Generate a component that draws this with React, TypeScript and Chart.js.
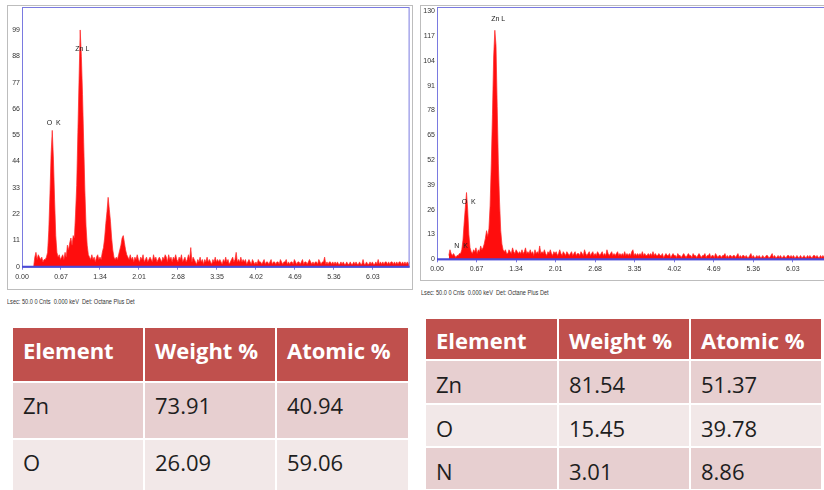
import React, { useEffect, useRef } from "react";
import { Chart, registerables } from "chart.js";

Chart.register(...registerables);

// ---------- data ----------
const CHANNEL_KEV = 0.02;
const SPECTRUM_START_KEV = 0.2;
const X_MAX_KEV = 6.66;
const X_TICKS = [0, 0.67, 1.34, 2.01, 2.68, 3.35, 4.02, 4.69, 5.36, 6.03];

const LEFT_Y_TICKS = [0, 11, 22, 33, 44, 55, 66, 77, 88, 99];
const LEFT_Y_MAX = 108.6;
// counts per 0.02 keV channel, starting at 0.20 keV (one row = 0.2 keV)
const LEFT_COUNTS = [
  0, 4, 6, 3, 5, 4, 3, 4, 2, 3,
  3, 4, 6, 15, 30, 47, 57, 45, 28, 13,
  6, 4, 5, 3, 4, 5, 3, 6, 4, 9,
  7, 10, 12, 9, 13, 12, 22, 34, 56, 78,
  99, 88, 72, 52, 32, 17, 9, 5, 4, 3,
  5, 3, 4, 2, 4, 5, 3, 4, 3, 6,
  8, 12, 18, 23, 29, 24, 19, 12, 7, 4,
  3, 4, 3, 5, 7, 9, 12, 13, 10, 7,
  5, 4, 3, 5, 3, 4, 2, 4, 3, 5,
  3, 2, 4, 3, 5, 2, 3, 4, 2, 3,
  4, 3, 2, 5, 3, 4, 2, 3, 4, 3,
  2, 4, 3, 5, 4, 2, 5, 3, 4, 2,
  4, 3, 5, 3, 2, 4, 3, 5, 2, 3,
  4, 2, 3, 5, 3, 8, 2, 4, 3, 2,
  1, 3, 2, 4, 2, 3, 1, 3, 2, 4,
  2, 3, 2, 1, 3, 2, 4, 2, 3, 2,
  3, 2, 1, 3, 2, 4, 2, 3, 1, 2,
  3, 4, 2, 3, 6, 2, 3, 2, 4, 2,
  3, 2, 3, 1, 2, 3, 2, 1, 3, 2,
  1, 2, 1, 3, 2, 2, 1, 2, 3, 1,
  2, 2, 1, 2, 3, 1, 2, 2, 1, 2,
  2, 1, 3, 2, 1, 2, 2, 3, 1, 2,
  1, 2, 2, 1, 3, 2, 1, 2, 2, 1,
  2, 3, 1, 2, 2, 1, 2, 3, 2, 1,
  2, 1, 2, 2, 1, 3, 2, 1, 2, 2,
  4, 1, 2, 1, 2, 2, 1, 2, 1, 2,
  1, 2, 1, 1, 2, 1, 2, 1, 1, 2,
  1, 1, 2, 1, 1, 2, 1, 2, 1, 1,
  2, 1, 1, 3, 1, 1, 2, 1, 1, 2,
  1, 2, 1, 1, 2, 1, 3, 1, 2, 1,
  2, 1, 2, 2, 1, 2, 1, 2, 2, 1,
  2, 1, 2, 1, 2, 2, 1, 2, 1, 2,
  1, 2, 1, 2,
];
const LEFT_PEAK_NAMES = ["O  K", "Zn L"];
const LEFT_PEAK_KEV = [0.546, 1.036];
const LEFT_PEAK_COUNTS = [58.5, 89.4];

const RIGHT_Y_TICKS = [0, 13, 26, 39, 52, 65, 78, 91, 104, 117, 130];
const RIGHT_Y_MAX = 132.2;
const RIGHT_COUNTS = [
  2, 5, 3, 2, 3, 2, 1, 2, 2, 3,
  3, 5, 10, 19, 27, 35, 26, 13, 6, 4,
  3, 5, 4, 6, 3, 5, 4, 7, 5, 6,
  8, 11, 15, 12, 16, 28, 50, 76, 106, 120,
  112, 80, 50, 30, 15, 8, 5, 4, 5, 3,
  3, 5, 4, 3, 6, 4, 3, 5, 4, 3,
  4, 3, 5, 3, 4, 6, 3, 4, 3, 5,
  3, 4, 2, 5, 3, 4, 3, 7, 3, 4,
  3, 5, 3, 2, 4, 3, 5, 3, 2, 4,
  3, 4, 2, 3, 5, 3, 2, 4, 3, 2,
  4, 3, 2, 3, 4, 2, 3, 4, 2, 3,
  3, 2, 4, 3, 2, 5, 3, 2, 3, 4,
  2, 3, 4, 2, 3, 2, 4, 3, 2, 3,
  4, 2, 3, 2, 5, 3, 2, 3, 4, 2,
  3, 2, 3, 4, 2, 3, 2, 3, 2, 4,
  2, 3, 2, 3, 2, 4, 5, 2, 3, 2,
  3, 2, 3, 2, 4, 2, 3, 2, 2, 3,
  2, 3, 2, 4, 2, 3, 2, 2, 3, 2,
  2, 3, 1, 2, 3, 2, 2, 3, 1, 2,
  3, 2, 2, 1, 3, 2, 2, 1, 2, 3,
  2, 1, 2, 3, 2, 2, 1, 3, 2, 2,
  1, 2, 3, 2, 1, 2, 2, 3, 1, 2,
  2, 3, 1, 2, 2, 1, 3, 2, 1, 2,
  2, 1, 2, 2, 3, 1, 2, 1, 2, 2,
  1, 2, 2, 1, 2, 3, 1, 2, 1, 2,
  2, 1, 2, 1, 1, 2, 3, 1, 2, 1,
  1, 2, 1, 2, 1, 1, 2, 1, 1, 2,
  2, 1, 1, 2, 3, 1, 2, 1, 1, 2,
  1, 2, 1, 1, 2, 1, 1, 2, 2, 1,
  2, 1, 2, 1, 1, 2, 1, 1, 2, 1,
  1, 2, 1, 1, 2, 1, 2, 1, 1, 2,
  2, 1, 2, 1, 1, 2, 1, 2, 1, 1,
  2, 1, 1, 2,
];
const RIGHT_PEAK_NAMES = ["N  K", "O  K", "Zn L"];
const RIGHT_PEAK_KEV = [0.407, 0.538, 1.036];
const RIGHT_PEAK_COUNTS = [4.9, 28, 124];

const CAPTION = "Lsec: 50.0 0 Cnts  0.000 keV  Det: Octane Plus Det";

const TABLE_HEADERS = ["Element", "Weight %", "Atomic %"];
const LEFT_ELEMENTS = ["Zn", "O"];
const LEFT_WEIGHT = ["73.91", "26.09"];
const LEFT_ATOMIC = ["40.94", "59.06"];
const RIGHT_ELEMENTS = ["Zn", "O", "N"];
const RIGHT_WEIGHT = ["81.54", "15.45", "3.01"];
const RIGHT_ATOMIC = ["51.37", "39.78", "8.86"];

// ---------- styling ----------
const SMALL_FONT = "'Liberation Sans', Arial, sans-serif";
const AXIS_BLUE = "#7a7ae0";
const AXIS_BLUE_DARK = "#4a4ad6";

type SpectrumProps = {
  counts: number[];
  yTicks: number[];
  yMax: number;
  peakNames: string[];
  peakKev: number[];
  peakCounts: number[];
  width: number;
  height: number;
  yAxisWidth: number;
  xAxisHeight: number;
  padTop: number;
  padRight: number;
};

function Spectrum(p: SpectrumProps) {
  const ref = useRef<HTMLCanvasElement | null>(null);
  useEffect(() => {
    if (!ref.current) return;
    const points = p.counts.map((c, i) => ({
      x: +(SPECTRUM_START_KEV + i * CHANNEL_KEV).toFixed(2),
      y: c,
    }));
    const frame = {
      id: "frame",
      afterDatasetsDraw(chart: any) {
        const { ctx, chartArea: a } = chart;
        ctx.save();
        ctx.strokeStyle = AXIS_BLUE;
        ctx.lineWidth = 1;
        ctx.strokeRect(a.left + 0.5, a.top + 0.5, a.right - a.left - 1, a.bottom - a.top);
        ctx.strokeStyle = AXIS_BLUE_DARK;
        ctx.lineWidth = 2;
        ctx.beginPath();
        ctx.moveTo(a.left, a.bottom);
        ctx.lineTo(a.right, a.bottom);
        ctx.stroke();
        ctx.restore();
      },
    };
    const peakLabels = {
      id: "peakLabels",
      afterDatasetsDraw(chart: any) {
        const { ctx, scales } = chart;
        ctx.save();
        ctx.font = `7px ${SMALL_FONT}`;
        ctx.fillStyle = "#222";
        ctx.textAlign = "center";
        ctx.textBaseline = "bottom";
        p.peakNames.forEach((n, i) => {
          ctx.fillText(n, scales.x.getPixelForValue(p.peakKev[i]), scales.y.getPixelForValue(p.peakCounts[i]));
        });
        ctx.restore();
      },
    };
    const chart = new Chart(ref.current, {
      type: "line",
      data: {
        datasets: [
          {
            data: points,
            borderColor: "rgba(255,40,40,0.9)",
            borderWidth: 0.8,
            backgroundColor: "rgba(255,0,0,0.95)",
            fill: "origin",
            pointRadius: 0,
            tension: 0,
          },
        ],
      },
      options: {
        animation: false,
        responsive: false,
        maintainAspectRatio: false,
        layout: { padding: { left: 0, top: p.padTop, right: p.padRight, bottom: 0 } },
        plugins: { legend: { display: false }, tooltip: { enabled: false } },
        scales: {
          x: {
            type: "linear",
            min: 0,
            max: X_MAX_KEV,
            afterBuildTicks: (s: any) => {
              s.ticks = X_TICKS.map((v) => ({ value: v }));
            },
            afterFit: (s: any) => {
              s.height = p.xAxisHeight;
              s.paddingLeft = 0;
              s.paddingRight = 0;
            },
            ticks: {
              autoSkip: false,
              maxRotation: 0,
              padding: 3,
              color: "#333",
              font: { family: SMALL_FONT, size: 7 },
              callback: (v: any) => Number(v).toFixed(2),
            },
            grid: { display: true, drawOnChartArea: false, drawTicks: true, tickLength: 3, color: AXIS_BLUE },
            border: { display: false },
          },
          y: {
            type: "linear",
            min: 0,
            max: p.yMax,
            afterBuildTicks: (s: any) => {
              s.ticks = p.yTicks.map((v) => ({ value: v }));
            },
            afterFit: (s: any) => {
              s.width = p.yAxisWidth;
              s.paddingTop = 0;
              s.paddingBottom = 0;
            },
            ticks: {
              autoSkip: false,
              padding: 2,
              color: "#333",
              font: { family: SMALL_FONT, size: 7 },
            },
            grid: { display: false, drawTicks: false, tickLength: 0 },
            border: { display: false },
          },
        },
      },
      plugins: [frame, peakLabels],
    } as any);
    return () => chart.destroy();
  }, []);
  return <canvas ref={ref} width={p.width} height={p.height} style={{ display: "block", width: p.width, height: p.height }} />;
}

type TableProps = {
  left: number;
  top: number;
  colWidths: number[];
  rowHeights: number[];
  columns: string[][];
  headTop: number;
  padTop: number;
};

function CompositionTable(t: TableProps) {
  const nRows = t.columns[0].length;
  const cell: React.CSSProperties = {
    fontFamily: "'Open Sans', sans-serif",
    fontSize: 22,
    lineHeight: "30px",
    paddingLeft: 10,
    boxSizing: "border-box",
    whiteSpace: "nowrap",
    overflow: "hidden",
  };
  return (
    <div
      style={{
        position: "absolute",
        left: t.left,
        top: t.top,
        display: "grid",
        gridTemplateColumns: t.colWidths.map((w) => w + "px").join(" "),
        gridTemplateRows: t.rowHeights.map((h) => h + "px").join(" "),
        gap: 2,
      }}
    >
      {TABLE_HEADERS.map((h, i) => (
        <div key={"h" + i} style={{ ...cell, paddingTop: t.headTop, background: "#C0504D", color: "#fff", fontWeight: 700 }}>
          {h}
        </div>
      ))}
      {Array.from({ length: nRows }).map((_, r) =>
        t.columns.map((col, c) => (
          <div
            key={r + "-" + c}
            style={{ ...cell, paddingTop: t.padTop, background: r % 2 === 0 ? "#E7CFD0" : "#F2E8E8", color: "#1e1e1e" }}
          >
            {col[r]}
          </div>
        ))
      )}
    </div>
  );
}

const captionStyle: React.CSSProperties = {
  position: "absolute",
  fontFamily: SMALL_FONT,
  fontSize: 7,
  color: "#333",
  whiteSpace: "pre",
  lineHeight: "8px",
  transform: "scaleX(0.8)",
  transformOrigin: "0 0",
};

export default function App() {
  return (
    <div style={{ position: "absolute", left: 0, top: 0, width: 824, height: 490, overflow: "hidden", background: "#fff" }}>
      <div style={{ position: "absolute", left: 7, top: 5, width: 406, height: 285, border: "1px solid #bdbdbd", boxSizing: "border-box" }}>
        <Spectrum
          counts={LEFT_COUNTS}
          yTicks={LEFT_Y_TICKS}
          yMax={LEFT_Y_MAX}
          peakNames={LEFT_PEAK_NAMES}
          peakKev={LEFT_PEAK_KEV}
          peakCounts={LEFT_PEAK_COUNTS}
          width={404}
          height={283}
          yAxisWidth={14}
          xAxisHeight={22.3}
          padTop={1}
          padRight={2.4}
        />
      </div>
      <div style={{ ...captionStyle, left: 7, top: 298 }}>{CAPTION}</div>

      <div style={{ position: "absolute", left: 420, top: 5, width: 430, height: 276, border: "1px solid #bdbdbd", boxSizing: "border-box" }}>
        <Spectrum
          counts={RIGHT_COUNTS}
          yTicks={RIGHT_Y_TICKS}
          yMax={RIGHT_Y_MAX}
          peakNames={RIGHT_PEAK_NAMES}
          peakKev={RIGHT_PEAK_KEV}
          peakCounts={RIGHT_PEAK_COUNTS}
          width={428}
          height={274}
          yAxisWidth={16}
          xAxisHeight={20.7}
          padTop={1}
          padRight={19}
        />
      </div>
      <div style={{ ...captionStyle, left: 421, top: 289 }}>{CAPTION}</div>

      <CompositionTable
        left={13}
        top={328}
        colWidths={[130, 130, 131]}
        rowHeights={[53, 55, 55]}
        columns={[LEFT_ELEMENTS, LEFT_WEIGHT, LEFT_ATOMIC]}
        headTop={7}
        padTop={7}
      />
      <CompositionTable
        left={426}
        top={319}
        colWidths={[131, 130, 130]}
        rowHeights={[40, 42, 41, 41]}
        columns={[RIGHT_ELEMENTS, RIGHT_WEIGHT, RIGHT_ATOMIC]}
        headTop={6}
        padTop={8}
      />
    </div>
  );
}
